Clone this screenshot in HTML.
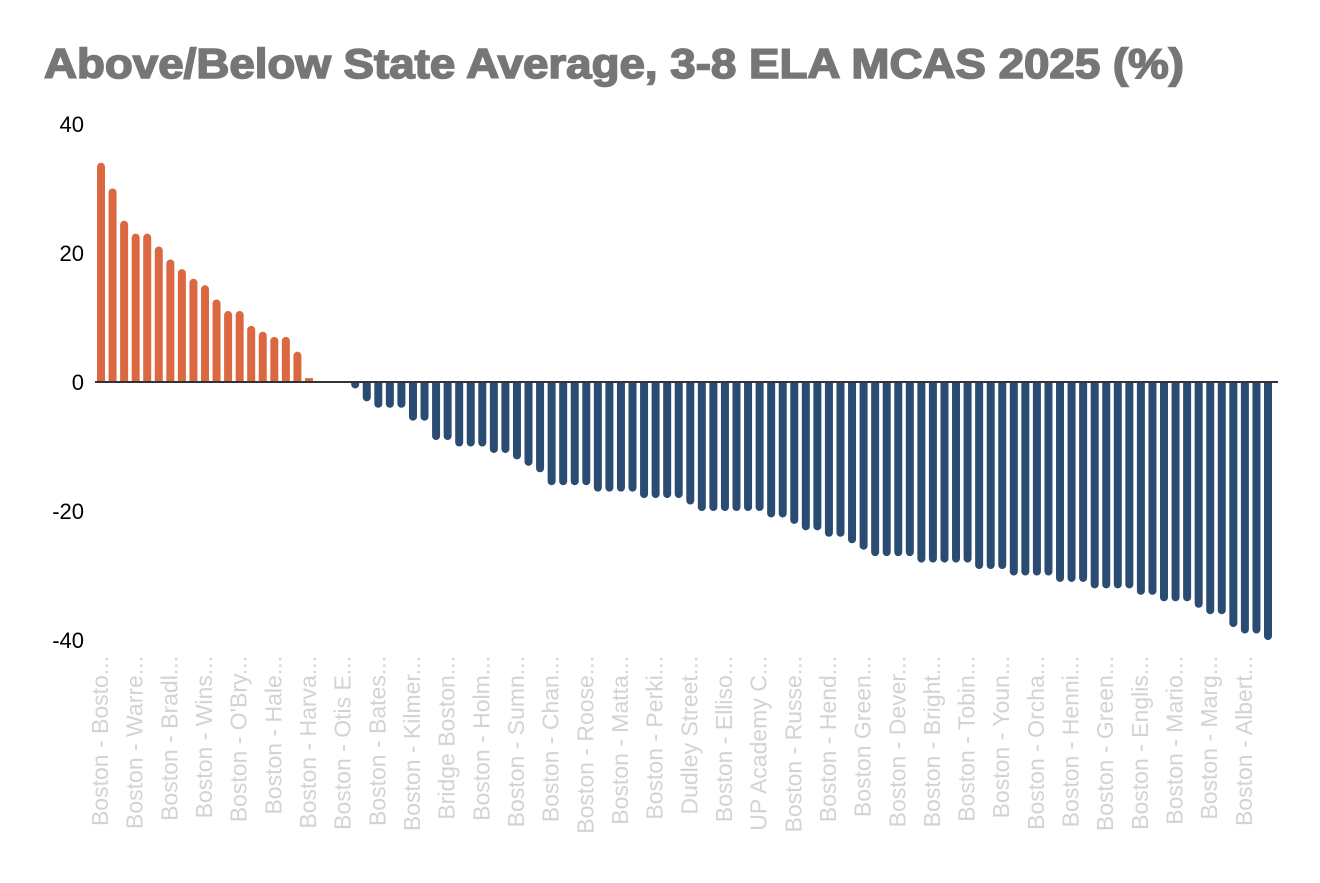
<!DOCTYPE html>
<html><head><meta charset="utf-8"><style>
body{margin:0;background:#fff;font-family:"Liberation Sans",sans-serif}
</style></head><body>
<svg width="1320" height="878" viewBox="0 0 1320 878" id="chart">
<text x="44" y="78" font-family="Liberation Sans, sans-serif" font-weight="bold" font-size="42" fill="#767676" stroke="#767676" stroke-width="1.6" textLength="1140" lengthAdjust="spacingAndGlyphs">Above/Below State Average, 3-8 ELA MCAS 2025 (%)</text>
<g id="yaxis"></g><g id="bars"></g><g id="xlabels"></g>
<line x1="95" x2="1278" y1="382" y2="382" stroke="#333" stroke-width="2"/>
</svg>
<script>
const values=[34,30,25,23,23,21,19,17.5,16,15,12.8,11,11,8.7,7.8,7,7,4.7,0.6,0,0,0,
-1,-3,-4,-4,-4,-6,-6,-9,-9,
-10,-10,-10,-11,-11,-12,-13,-14,-16,-16,-16,-16,-17,-17,-17,-17,-18,-18,-18,-18,-19,-20,-20,-20,-20,-20,-20,-21,-21,-22,-23,-23,-24,-24,-25,-26,
-27,-27,-27,-27,-28,-28,-28,-28,-28,-29,-29,-29,-30,-30,-30,-30,-31,-31,-31,-32,-32,-32,-32,-33,-33,-34,-34,-34,-35,-36,-36,-38,-39,-39,-40];
const labels=["Boston - Bosto...","Boston - Warre...","Boston - Bradl...","Boston - Wins...","Boston - O'Bry...","Boston - Hale...","Boston - Harva...","Boston - Otis E...","Boston - Bates...","Boston - Kilmer...","Bridge Boston...","Boston - Holm...","Boston - Sumn...","Boston - Chan...","Boston - Roose...","Boston - Matta...","Boston - Perki...","Dudley Street...","Boston - Elliso...","UP Academy C...","Boston - Russe...","Boston - Hend...","Boston Green...","Boston - Dever...","Boston - Bright...","Boston - Tobin...","Boston - Youn...","Boston - Orcha...","Boston - Henni...","Boston - Green...","Boston - Englis...","Boston - Mario...","Boston - Marg...","Boston - Albert..."];
const yTicks=[40,20,0,-20,-40];
const NS="http://www.w3.org/2000/svg";
const y=v=>382-v*6.45;
const x=i=>101+i*(1167/(values.length-1));
const ya=document.getElementById('yaxis');
yTicks.forEach(t=>{const e=document.createElementNS(NS,'text');e.setAttribute('x',84);e.setAttribute('y',y(t)+8);e.setAttribute('text-anchor','end');e.setAttribute('font-size','22');e.setAttribute('fill','#000');e.textContent=t;


ya.appendChild(e);});
const bg=document.getElementById('bars');
values.forEach((v,i)=>{if(v===0)return;const w=4,cx=x(i),y0=y(0),y1=y(v);const p=document.createElementNS(NS,'path');let d;
if(v>0)d=`M${cx-w},${y0}V${y1+w}A${w},${w} 0 0 1 ${cx+w},${y1+w}V${y0}Z`;
else d=`M${cx-w},${y0}V${y1-w}A${w},${w} 0 0 0 ${cx+w},${y1-w}V${y0}Z`;
if(Math.abs(y1-y0)<w){d=`M${cx-w},${y0}L${cx-w},${y1}L${cx+w},${y1}L${cx+w},${y0}Z`;}
p.setAttribute('d',d);p.setAttribute('fill',v>0?'#DB6840':'#2B4C72');


bg.appendChild(p);});
const xl=document.getElementById('xlabels');
labels.forEach((l,k)=>{const cx=x(k*3)+7;const e=document.createElementNS(NS,'text');e.setAttribute('transform',`translate(${cx},656) rotate(-90)`);e.setAttribute('text-anchor','end');e.setAttribute('font-size','23');e.setAttribute('fill','#d3d3d3');e.textContent=l;


xl.appendChild(e);});
</script>
</body></html>
